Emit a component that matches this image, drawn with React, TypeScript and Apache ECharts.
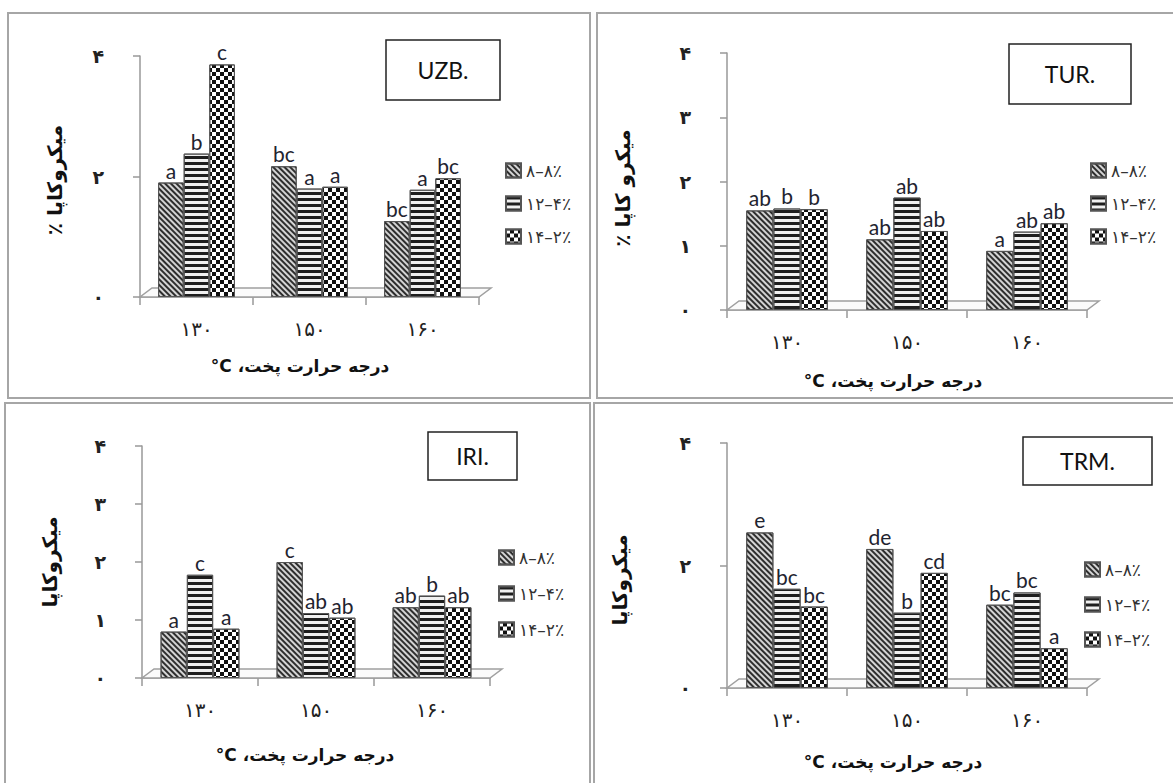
import React, { useEffect, useRef } from "react";
import * as echarts from "echarts";

// ---- data ----
const categories = ["۱۳۰", "۱۵۰", "۱۶۰"];
const seriesNames = ["۸–۸٪", "۱۲–۴٪", "۱۴–۲٪"];
const yTickLabels = ["۰", "۱", "۲", "۳", "۴"];

const uzb8 = [1.9, 2.17, 1.26];
const uzb12 = [2.38, 1.8, 1.78];
const uzb14 = [3.86, 1.83, 1.97];
const uzbLetters8 = ["a", "bc", "bc"];
const uzbLetters12 = ["b", "a", "a"];
const uzbLetters14 = ["c", "a", "bc"];

const tur8 = [1.55, 1.1, 0.92];
const tur12 = [1.58, 1.75, 1.22];
const tur14 = [1.57, 1.23, 1.35];
const turLetters8 = ["ab", "ab", "a"];
const turLetters12 = ["b", "ab", "ab"];
const turLetters14 = ["b", "ab", "ab"];

const iri8 = [0.8, 2.0, 1.22];
const iri12 = [1.78, 1.12, 1.42];
const iri14 = [0.85, 1.04, 1.22];
const iriLetters8 = ["a", "c", "ab"];
const iriLetters12 = ["c", "ab", "b"];
const iriLetters14 = ["a", "ab", "ab"];

const trm8 = [2.54, 2.27, 1.36];
const trm12 = [1.62, 1.23, 1.56];
const trm14 = [1.33, 1.88, 0.65];
const trmLetters8 = ["e", "de", "bc"];
const trmLetters12 = ["bc", "b", "bc"];
const trmLetters14 = ["bc", "cd", "a"];

const xTitle = "درجه حرارت پخت، C°";

// ---- layout ----
const PANELS = [
  {
    name: "UZB.",
    values: [uzb8, uzb12, uzb14],
    letters: [uzbLetters8, uzbLetters12, uzbLetters14],
    yTitle: "میکروکاپا ٪",
    interval: 2,
    grid: { left: 140, top: 56, width: 339, height: 241 },
    frame: { x: 8, y: 13, w: 582, h: 385 },
    box: { x: 386, y: 40, w: 114, h: 60 },
    legend: { left: 505, top: 162, gap: 16 },
    xTitlePos: [300, 366],
    yTitlePos: [55, 180],
  },
  {
    name: "TUR.",
    values: [tur8, tur12, tur14],
    letters: [turLetters8, turLetters12, turLetters14],
    yTitle: "میکرو کاپا ٪",
    interval: 1,
    grid: { left: 727, top: 53, width: 360, height: 257 },
    frame: { x: 597, y: 13, w: 600, h: 385 },
    box: { x: 1009, y: 44, w: 122, h: 60 },
    legend: { left: 1090, top: 162, gap: 16 },
    xTitlePos: [893, 381],
    yTitlePos: [623, 188],
  },
  {
    name: "IRI.",
    values: [iri8, iri12, iri14],
    letters: [iriLetters8, iriLetters12, iriLetters14],
    yTitle: "میکروکاپا",
    interval: 1,
    grid: { left: 142, top: 446, width: 348, height: 232 },
    frame: { x: 5, y: 403, w: 585, h: 400 },
    box: { x: 428, y: 432, w: 89, h: 48 },
    legend: { left: 498, top: 549, gap: 19 },
    xTitlePos: [305, 755],
    yTitlePos: [50, 562],
  },
  {
    name: "TRM.",
    values: [trm8, trm12, trm14],
    letters: [trmLetters8, trmLetters12, trmLetters14],
    yTitle: "میکروکاپا",
    interval: 2,
    grid: { left: 727, top: 443, width: 360, height: 245 },
    frame: { x: 594, y: 403, w: 600, h: 400 },
    box: { x: 1023, y: 437, w: 129, h: 48 },
    legend: { left: 1084, top: 561, gap: 18 },
    xTitlePos: [893, 762],
    yTitlePos: [620, 580],
  },
];

const FILLS = ["#d4d4d4", "#f0f0f0", "#ffffff"];
const DECALS: any[] = [
  { color: "#2e2e2e", dashArrayX: [1, 0], dashArrayY: [2, 2], rotation: Math.PI / 4 },
  { color: "#1e1e1e", dashArrayX: [1, 0], dashArrayY: [3, 3], rotation: 0 },
  { color: "#111", symbol: "rect", dashArrayX: [[4, 4], [0, 4, 4, 0]], dashArrayY: [4, 0] },
];

const PERSIAN_FONT = "'DejaVu Sans', 'Noto Sans', sans-serif";
const LATIN_FONT = "Lato, 'Open Sans', sans-serif";
const rtl = (s: string) => "\u202B" + s + "\u202C";

export default function App() {
  const ref = useRef<HTMLDivElement>(null);

  useEffect(() => {
    if (!ref.current) return;
    const chart = echarts.init(ref.current, undefined, { renderer: "svg" });

    const grids: any[] = [];
    const xAxes: any[] = [];
    const yAxes: any[] = [];
    const series: any[] = [];
    const legends: any[] = [];
    const graphics: any[] = [];

    PANELS.forEach((p, pi) => {
      grids.push({ ...p.grid, containLabel: false });
      xAxes.push({
        type: "category",
        gridIndex: pi,
        data: categories,
        axisLine: { lineStyle: { color: "#999", width: 1.5 } },
        axisTick: { show: true, length: 8, lineStyle: { color: "#999", width: 1.5 } },
        axisLabel: {
          margin: 22,
          fontSize: 20,
          color: "#222",
          fontFamily: PERSIAN_FONT,
        },
        splitLine: { show: false },
      });
      yAxes.push({
        type: "value",
        gridIndex: pi,
        min: 0,
        max: 4,
        interval: p.interval,
        axisLine: { show: true, lineStyle: { color: "#999", width: 1.5 } },
        axisTick: { show: true, length: 7, lineStyle: { color: "#999", width: 1.5 } },
        splitLine: { show: false },
        axisLabel: {
          margin: 36,
          fontSize: 19,
          fontWeight: "bold",
          color: "#222",
          fontFamily: PERSIAN_FONT,
          formatter: (v: number) => yTickLabels[Math.round(v)] ?? "",
        },
      });

      p.values.forEach((vals, si) => {
        series.push({
          type: "bar",
          name: seriesNames[si],
          xAxisIndex: pi,
          yAxisIndex: pi,
          data: vals,
          barGap: "0%",
          barCategoryGap: "32%",
          z: 3,
          itemStyle: {
            color: FILLS[si],
            borderColor: "#555",
            borderWidth: 1,
            decal: DECALS[si],
          },
          label: {
            show: true,
            position: "top",
            distance: 2,
            fontSize: 21,
            fontFamily: LATIN_FONT,
            color: "#1f2430",
            formatter: (prm: any) => p.letters[si][prm.dataIndex],
          },
        });
      });

      legends.push({
        data: seriesNames,
        orient: "vertical",
        left: p.legend.left,
        top: p.legend.top,
        itemGap: p.legend.gap,
        itemWidth: 15,
        itemHeight: 14,
        icon: "rect",
        selectedMode: false,
        padding: 0,
        textStyle: { fontSize: 17, color: "#333", fontFamily: PERSIAN_FONT },
      });

      // panel frame
      graphics.push({
        type: "rect",
        z: 0,
        shape: { x: p.frame.x, y: p.frame.y, width: p.frame.w, height: p.frame.h },
        style: { fill: "none", stroke: "#a6a6a6", lineWidth: 2 },
      });
      // 3D floor under the bars
      const x0 = p.grid.left;
      const x1 = p.grid.left + p.grid.width;
      const y0 = p.grid.top + p.grid.height;
      graphics.push({
        type: "polygon",
        z: 1,
        shape: {
          points: [
            [x0, y0],
            [x1, y0],
            [x1 + 12, y0 - 9],
            [x0 + 12, y0 - 9],
          ],
        },
        style: { fill: "#fbfbfb", stroke: "#a0a0a0", lineWidth: 1.5 },
      });
      // title box
      graphics.push({
        type: "rect",
        z: 5,
        shape: { x: p.box.x, y: p.box.y, width: p.box.w, height: p.box.h },
        style: { fill: "#fff", stroke: "#222", lineWidth: 1.5 },
      });
      graphics.push({
        type: "text",
        z: 6,
        x: p.box.x + p.box.w / 2,
        y: p.box.y + p.box.h / 2,
        style: {
          text: p.name,
          font: `23px ${LATIN_FONT}`,
          fill: "#111",
          textAlign: "center",
          textVerticalAlign: "middle",
        },
      });
      // x title
      graphics.push({
        type: "text",
        z: 6,
        x: p.xTitlePos[0],
        y: p.xTitlePos[1],
        style: {
          text: rtl(xTitle),
          font: `bold 17px ${PERSIAN_FONT}`,
          fill: "#111",
          textAlign: "center",
          textVerticalAlign: "middle",
        },
      });
      // y title
      graphics.push({
        type: "text",
        z: 6,
        x: p.yTitlePos[0],
        y: p.yTitlePos[1],
        rotation: Math.PI / 2,
        style: {
          text: rtl(p.yTitle),
          font: `bold 20px ${PERSIAN_FONT}`,
          fill: "#111",
          textAlign: "center",
          textVerticalAlign: "middle",
        },
      });
    });

    chart.setOption({
      animation: false,
      backgroundColor: "#fff",
      grid: grids,
      xAxis: xAxes,
      yAxis: yAxes,
      legend: legends,
      series,
      graphic: graphics,
    });

    return () => chart.dispose();
  }, []);

  return (
    <div
      ref={ref}
      style={{ position: "fixed", left: 0, top: 0, width: 1173, height: 783, background: "#fff" }}
    />
  );
}
